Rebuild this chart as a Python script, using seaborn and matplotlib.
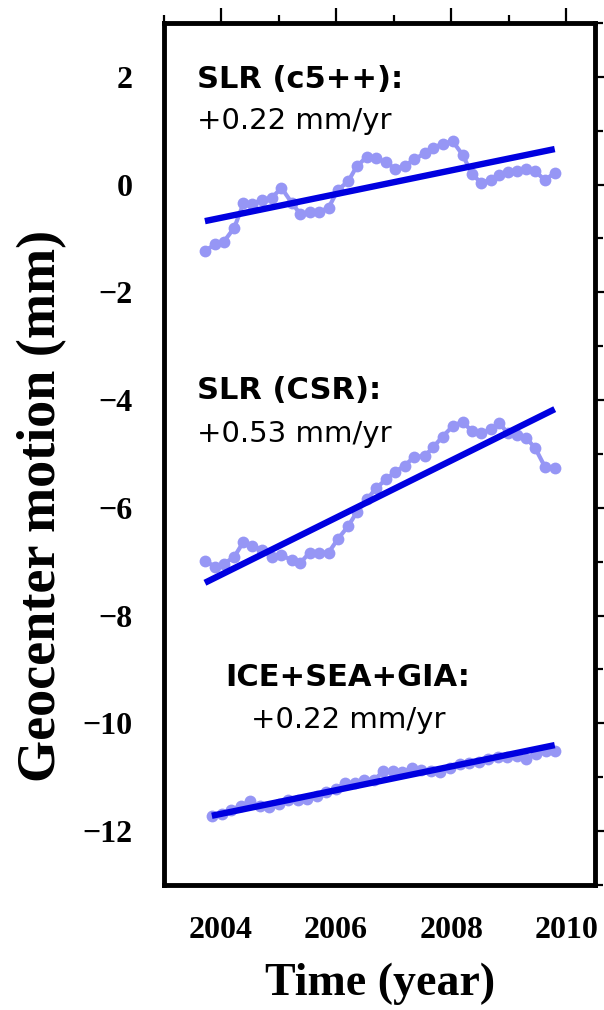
import matplotlib
matplotlib.use("Agg")
import matplotlib.pyplot as plt
from matplotlib.ticker import MultipleLocator
import numpy as np
import pandas as pd
import seaborn as sns

# --- data -------------------------------------------------------------
# epochs (decimal year) of the two SLR solutions
t_slr = [2003.72, 2003.90, 2004.05, 2004.23, 2004.39, 2004.53, 2004.71, 2004.88,
         2005.05, 2005.23, 2005.38, 2005.54, 2005.70, 2005.87, 2006.03, 2006.21,
         2006.36, 2006.54, 2006.70, 2006.87, 2007.03, 2007.19, 2007.36, 2007.54,
         2007.69, 2007.85, 2008.03, 2008.20, 2008.36, 2008.52, 2008.69, 2008.84,
         2008.98, 2009.14, 2009.30, 2009.46, 2009.63, 2009.80]

# geocenter motion, SLR (c5++), mm
slr_c5 = [-1.23, -1.11, -1.06, -0.80, -0.35, -0.37, -0.28, -0.25, -0.06, -0.34,
          -0.55, -0.51, -0.51, -0.43, -0.10, 0.06, 0.34, 0.52, 0.49, 0.41,
          0.29, 0.34, 0.47, 0.58, 0.68, 0.76, 0.80, 0.55, 0.20, 0.03,
          0.09, 0.18, 0.23, 0.25, 0.28, 0.25, 0.08, 0.22]

# geocenter motion, SLR (CSR), mm (offset for display)
slr_csr = [-6.99, -7.09, -7.04, -6.91, -6.63, -6.70, -6.78, -6.91, -6.88, -6.97,
           -7.02, -6.83, -6.83, -6.83, -6.58, -6.34, -6.08, -5.84, -5.63, -5.47,
           -5.33, -5.22, -5.05, -5.04, -4.87, -4.68, -4.48, -4.40, -4.58, -4.62,
           -4.54, -4.43, -4.61, -4.65, -4.70, -4.89, -5.24, -5.26]

# epochs of the model sum
t_model = [2003.84, 2004.01, 2004.17, 2004.34, 2004.50, 2004.67, 2004.83, 2005.00,
           2005.16, 2005.33, 2005.50, 2005.66, 2005.83, 2005.99, 2006.16, 2006.32,
           2006.49, 2006.66, 2006.82, 2006.99, 2007.15, 2007.32, 2007.48, 2007.65,
           2007.81, 2007.98, 2008.15, 2008.31, 2008.48, 2008.64, 2008.81, 2008.97,
           2009.14, 2009.30, 2009.47, 2009.64, 2009.80]

# geocenter motion, ICE+SEA+GIA, mm (offset for display)
ice_sea_gia = [-11.72, -11.68, -11.61, -11.53, -11.45, -11.54, -11.56, -11.50,
               -11.43, -11.42, -11.41, -11.34, -11.28, -11.21, -11.11, -11.10,
               -11.05, -11.05, -10.89, -10.88, -10.91, -10.82, -10.87, -10.88,
               -10.90, -10.83, -10.75, -10.73, -10.71, -10.66, -10.62, -10.62,
               -10.60, -10.66, -10.56, -10.51, -10.51]

series_names = ["SLR (c5++)", "SLR (CSR)", "ICE+SEA+GIA"]
trend_rates = [0.22, 0.53, 0.22]          # mm/yr
trend_mid_values = [-0.01, -5.78, -11.06]  # trend value at mid epoch, mm
label_titles = ["SLR (c5++):", "SLR (CSR):", "ICE+SEA+GIA:"]

series_times = [t_slr, t_slr, t_model]
series_values = [slr_c5, slr_csr, ice_sea_gia]

# --- tables -----------------------------------------------------------
obs = pd.concat(
    [pd.DataFrame({"series": n, "t": t, "v": v})
     for n, t, v in zip(series_names, series_times, series_values)],
    ignore_index=True)

trend_rows = []
for n, t, rate, mid in zip(series_names, series_times, trend_rates, trend_mid_values):
    t0, t1 = t[0], t[-1]
    tm = 0.5 * (t0 + t1)
    for tt in (t0, t1):
        trend_rows.append({"series": n, "t": tt, "v": mid + rate * (tt - tm)})
trend = pd.DataFrame(trend_rows)

# --- figure -----------------------------------------------------------
sns.set_theme(style="white")
plt.rcParams["font.family"] = ["Liberation Serif", "DejaVu Serif"]
plt.rcParams["axes.unicode_minus"] = True
for key in ("text.color", "axes.labelcolor", "xtick.color", "ytick.color",
            "axes.edgecolor"):
    plt.rcParams[key] = "black"

fig = plt.figure(figsize=(6.04, 10.10), dpi=100)
ax = fig.add_axes([0.2707, 0.1238, 0.7144, 0.8535])

dot_color = "#9696f5"
line_color = "#0000e0"

for n in series_names:
    sns.lineplot(data=obs[obs["series"] == n], x="t", y="v", ax=ax,
                 color=dot_color, linewidth=3.0, marker="o", markersize=8.5,
                 markeredgewidth=0, estimator=None, sort=False, legend=False)
for n in series_names:
    sns.lineplot(data=trend[trend["series"] == n], x="t", y="v", ax=ax,
                 color=line_color, linewidth=4.6, estimator=None, sort=False,
                 legend=False, solid_capstyle="butt")

ax.set_xlim(2003, 2010.5)
ax.set_ylim(-13, 3)
ax.xaxis.set_major_locator(MultipleLocator(2))
ax.xaxis.set_minor_locator(MultipleLocator(1))
ax.yaxis.set_major_locator(MultipleLocator(2))
ax.yaxis.set_minor_locator(MultipleLocator(1))

for s in ax.spines.values():
    s.set_linewidth(3.5)
    s.set_color("black")

ax.tick_params(which="both", direction="out", top=True, right=True,
               color="black", width=1.6)
ax.tick_params(which="major", length=11, pad=11, labelsize=23)
ax.tick_params(which="minor", length=5.5)
for lab in ax.get_xticklabels() + ax.get_yticklabels():
    lab.set_fontweight("bold")

ax.set_xlabel("Time (year)", fontsize=33, fontweight="bold")
ax.set_ylabel("Geocenter motion (mm)", fontsize=39, fontweight="bold")
ax.xaxis.set_label_coords(0.502, -0.090)
ax.yaxis.set_label_coords(-0.224, 0.44)

# --- annotations ------------------------------------------------------
ann_font = ["DejaVu Sans"]
ann_pos = [(2003.58, 1.80, 1.04, "left"),
           (2003.58, -3.98, -4.78, "left"),
           (2006.21, -9.31, -10.09, "center")]
for title, rate, (tx, ty1, ty2, ha) in zip(label_titles, trend_rates, ann_pos):
    ax.text(tx, ty1, title, fontsize=22, fontweight="bold", family=ann_font,
            ha=ha, va="baseline", color="black")
    ax.text(tx, ty2, f"+{rate:.2f} mm/yr", fontsize=21, family=ann_font,
            ha=ha, va="baseline", color="black")

fig.savefig("out.png", dpi=100)
